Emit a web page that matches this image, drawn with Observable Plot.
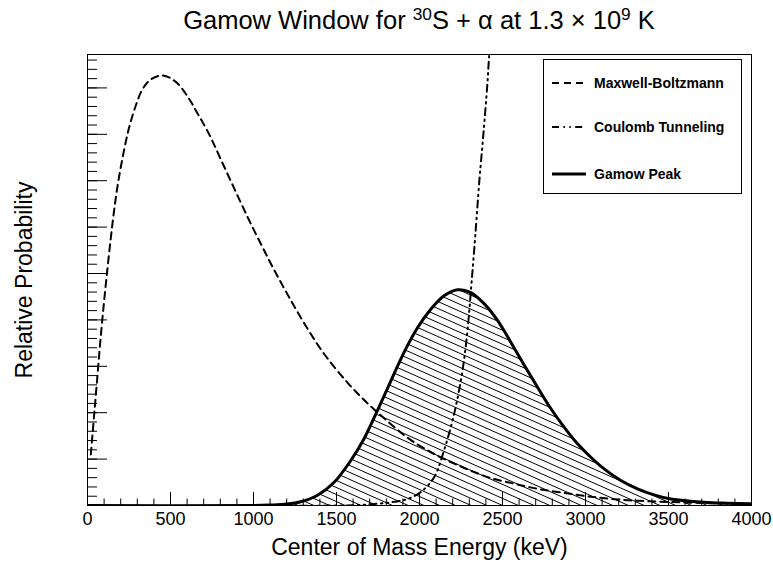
<!DOCTYPE html>
<html>
<head>
<meta charset="utf-8">
<script src="https://cdn.jsdelivr.net/npm/d3@7"></script>
<script src="https://cdn.jsdelivr.net/npm/@observablehq/plot@0.6"></script>
<style>
  body { margin: 0; background: #fff; font-family: "Liberation Sans", Arial, Helvetica, sans-serif; }
  #wrap { position: relative; width: 773px; height: 563px; background: #fff; }
  #title { height: 40px; line-height: 40px; padding-left: 87px; width: 664px; text-align: center; font-size: 25.5px; color: #000; white-space: nowrap; }
  #title sup { font-size: 0.68em; line-height: 0; vertical-align: 0.5em; }
  #legend { position: absolute; left: 543px; top: 59px; width: 199px; height: 135px; border: 1px solid #000; background: #fff; box-sizing: border-box; }
  .lg-row { position: absolute; left: 0; height: 20px; width: 199px; }
  .lg-row svg { position: absolute; left: 8px; top: 0; }
  .lg-row span { position: absolute; left: 50px; top: 0; line-height: 20px; font-size: 14px; font-weight: bold; color: #000; white-space: nowrap; }
</style>
</head>
<body>
<div id="wrap">
  <div id="title">Gamow Window for <sup>30</sup>S + α at 1.3 × 10<sup>9</sup> K</div>
  <div id="chart"></div>
  <div id="legend"></div>
</div>
<script>
// ---- Data ----
// Maxwell-Boltzmann distribution (dashed)
const mbEnergy = [20, 40, 60, 80, 100, 120, 140, 160, 184, 217, 251, 291, 331, 381, 452, 532, 602, 663, 733, 803, 883, 964, 1044, 1124, 1205, 1305, 1425, 1566, 1676, 1787, 1928, 2088, 2249, 2309, 2430, 2570, 2711, 2871, 3032, 3193, 3393, 3594, 3800, 4000];
const mbProb   = [1.10, 1.95, 2.80, 3.65, 4.40, 5.10, 5.75, 6.35, 6.95, 7.60, 8.15, 8.62, 8.97, 9.18, 9.27, 9.13, 8.82, 8.45, 8.00, 7.46, 6.84, 6.22, 5.64, 5.08, 4.55, 3.93, 3.27, 2.65, 2.24, 1.88, 1.46, 1.11, 0.84, 0.75, 0.59, 0.47, 0.36, 0.27, 0.19, 0.13, 0.09, 0.065, 0.045, 0.03];

// Coulomb tunneling probability (dash-dot)
const coulEnergy = [1000, 1600, 1750, 1850, 1928, 2008, 2088, 2148, 2209, 2259, 2289, 2313, 2337, 2359, 2385, 2409, 2419, 2440];
const coulProb   = [0, 0.005, 0.04, 0.08, 0.14, 0.29, 0.61, 1.19, 1.98, 2.91, 3.77, 4.78, 5.86, 6.93, 8.01, 9.09, 9.66, 10.6];

// Gamow peak (solid, hatched)
const gamowEnergy = [0, 1000, 1100, 1200, 1285, 1386, 1486, 1586, 1666, 1747, 1827, 1907, 1988, 2068, 2148, 2229, 2309, 2389, 2470, 2550, 2630, 2711, 2791, 2871, 2952, 3032, 3112, 3213, 3313, 3413, 3514, 3714, 3850, 4000];
const gamowProb   = [0, 0, 0.01, 0.03, 0.08, 0.22, 0.50, 0.97, 1.44, 2.05, 2.68, 3.30, 3.83, 4.23, 4.52, 4.65, 4.59, 4.35, 3.99, 3.52, 3.03, 2.55, 2.09, 1.69, 1.33, 1.04, 0.79, 0.54, 0.36, 0.23, 0.14, 0.07, 0.05, 0.04];

// Axes
const xDomain = [0, 4000];
const yDomain = [0, 9.72];
const xMajorTicks = [0, 500, 1000, 1500, 2000, 2500, 3000, 3500, 4000];
const xMinorTicks = d3.range(0, 4001, 100);
const yMajorTicks = [0, 1, 2, 3, 4, 5, 6, 7, 8, 9];
const yMinorTicks = d3.range(0, 9.7, 0.2);
const xTitle = "Center of Mass Energy (keV)";
const yTitle = "Relative Probability";

// Legend
const legendLabels = ["Maxwell-Boltzmann", "Coulomb Tunneling", "Gamow Peak"];

// ---- Build tables ----
const mb = mbEnergy.map((E, i) => ({E, v: mbProb[i]}));
const coul = coulEnergy.map((E, i) => ({E, v: coulProb[i]}));
const gamow = gamowEnergy.map((E, i) => ({E, v: gamowProb[i]}));

// ---- Layout/style ----
const W = 773, H = 523, mL = 87, mR = 22, mT = 14, mB = 58;
const plotW = W - mL - mR, plotH = H - mT - mB;
const yPerPx = (yDomain[1] - yDomain[0]) / plotH;
const xPerPx = (xDomain[1] - xDomain[0]) / plotW;
const dashMB = "7,5";
const dashCoul = "7,4.4,1.5,4.4,1.5,4.4";
const smooth = "catmull-rom";

const chart = Plot.plot({
  width: W, height: H,
  marginLeft: mL, marginRight: mR, marginTop: mT, marginBottom: mB,
  x: {domain: xDomain, axis: null},
  y: {domain: yDomain, axis: null},
  style: {fontFamily: "'Liberation Sans', Arial, Helvetica, sans-serif", background: "white", color: "black"},
  marks: [
    Plot.areaY(gamow, {x: "E", y: "v", fill: "url(#hatch)", curve: smooth, clip: true}),
    // x ticks (inward, from bottom)
    Plot.ruleX(xMinorTicks, {x: d => d, y1: 0, y2: 6.5 * yPerPx, stroke: "black", strokeWidth: 1}),
    Plot.ruleX(xMajorTicks, {x: d => d, y1: 0, y2: 13 * yPerPx, stroke: "black", strokeWidth: 1}),
    // y ticks (inward, from left)
    Plot.ruleY(yMinorTicks, {y: d => d, x1: 0, x2: 10 * xPerPx, stroke: "black", strokeWidth: 1}),
    Plot.ruleY(yMajorTicks, {y: d => d, x1: 0, x2: 20 * xPerPx, stroke: "black", strokeWidth: 1}),
    Plot.lineY(mb, {x: "E", y: "v", stroke: "black", strokeWidth: 2, strokeDasharray: dashMB, curve: smooth, clip: true}),
    Plot.lineY(coul, {x: "E", y: "v", stroke: "black", strokeWidth: 2, strokeDasharray: dashCoul, curve: smooth, clip: true}),
    Plot.lineY(gamow, {x: "E", y: "v", stroke: "black", strokeWidth: 3, curve: smooth, clip: true}),
    Plot.frame({stroke: "black", strokeWidth: 1}),
    Plot.text(xMajorTicks, {x: d => d, frameAnchor: "bottom", dy: 14, text: d => String(d), fontSize: 18, fill: "black", lineAnchor: "middle"}),
    Plot.text([xTitle], {frameAnchor: "bottom", dy: 42, fontSize: 23, fill: "black", lineAnchor: "middle", textAnchor: "middle"}),
    Plot.text([yTitle], {frameAnchor: "left", dx: -63, rotate: -90, fontSize: 23, fill: "black", lineAnchor: "middle", textAnchor: "middle"})
  ]
});

// hatch pattern definition
const ns = "http://www.w3.org/2000/svg";
const defs = document.createElementNS(ns, "defs");
defs.innerHTML = '<pattern id="hatch" patternUnits="userSpaceOnUse" width="40" height="6.4" patternTransform="rotate(24)">' +
  '<line x1="0" y1="3.2" x2="40" y2="3.2" stroke="black" stroke-width="1"/></pattern>';
chart.insertBefore(defs, chart.firstChild);
document.getElementById("chart").appendChild(chart);

// legend
const legendStyles = [
  {dash: dashMB, width: 2},
  {dash: dashCoul, width: 2},
  {dash: null, width: 3}
];
const legendTops = [13, 57, 104];
const lg = document.getElementById("legend");
legendLabels.forEach((label, i) => {
  const row = document.createElement("div");
  row.className = "lg-row";
  row.style.top = legendTops[i] + "px";
  const st = legendStyles[i];
  row.innerHTML = `<svg width="36" height="20"><line x1="0" y1="10" x2="34" y2="10" stroke="black" stroke-width="${st.width}" ${st.dash ? `stroke-dasharray="${st.dash}"` : ""}/></svg><span>${label}</span>`;
  lg.appendChild(row);
});
</script>
</body>
</html>
